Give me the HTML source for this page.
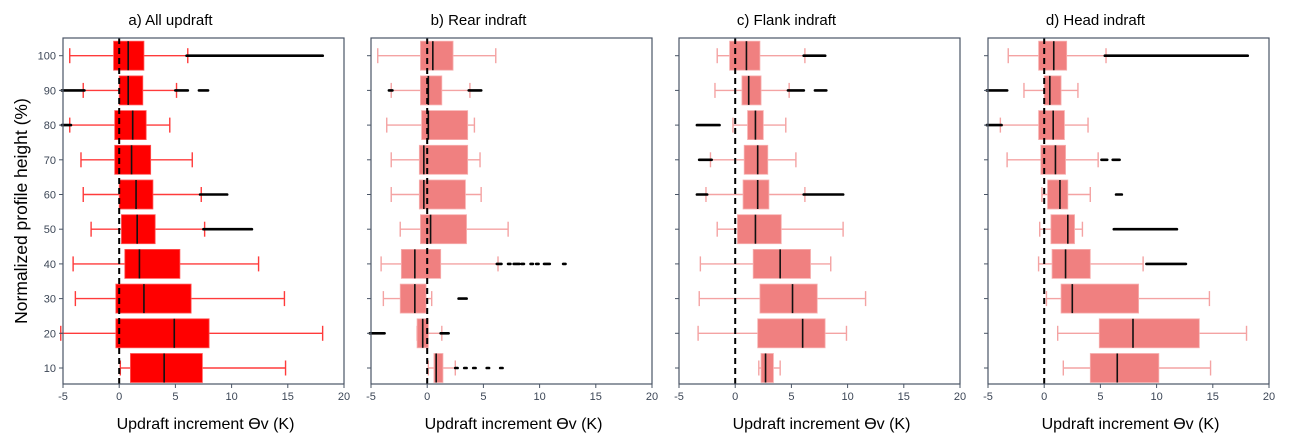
<!DOCTYPE html>
<html><head><meta charset="utf-8">
<style>
html,body{margin:0;padding:0;background:#fff;}
svg{display:block;font-family:"Liberation Sans",sans-serif;}
</style></head>
<body>
<svg id="chart" width="1289" height="446" viewBox="0 0 1289 446" xmlns="http://www.w3.org/2000/svg">
<text x="0" y="0" transform="translate(27,211) rotate(-90)" text-anchor="middle" font-size="17.5" fill="#000">Normalized profile height (%)</text>
</svg>
<script>
const heights = [100, 90, 80, 70, 60, 50, 40, 30, 20, 10];
const xTicks = [-5, 0, 5, 10, 15, 20];
const panelTitles = ["a) All updraft", "b) Rear indraft", "c) Flank indraft", "d) Head indraft"];
// per panel rows: [whiskerLo, q1, median, q3, whiskerHi]
const statsA = [[-4.4,-0.5,0.8,2.2,6.1],[-3.2,0,0.8,2.1,5.1],[-4.4,-0.4,1.2,2.4,4.5],[-3.4,-0.4,1.1,2.8,6.5],[-3.2,0,1.5,3.0,7.3],[-2.5,0.2,1.6,3.2,7.6],[-4.1,0.5,1.8,5.4,12.4],[-3.9,-0.3,2.2,6.4,14.7],[-5.2,-0.3,4.9,8.0,18.1],[0.1,1.0,4.0,7.4,14.8]];
const statsB = [[-4.4,-0.6,0.5,2.3,6.1],[-3.2,-0.6,0.1,1.3,3.8],[-3.6,-0.5,0.1,3.6,4.2],[-3.2,-0.7,-0.3,3.6,4.7],[-3.2,-0.7,-0.3,3.4,4.8],[-2.4,-0.6,0.3,3.5,7.2],[-4.1,-2.3,-1.1,1.2,6.3],[-3.9,-2.4,-1.1,-0.1,0.4],[-0.9,-0.9,-0.4,0.1,1.3],[0.1,0.6,0.8,1.4,2.5]];
const statsC = [[-1.6,-0.5,1.0,2.2,6.2],[-1.8,0.6,1.2,2.3,4.8],[-0.2,1.1,1.8,2.5,4.5],[-2.2,0.8,2.0,2.9,5.4],[-2.6,0.7,2.0,3.0,6.2],[-1.6,0.2,1.8,4.1,9.6],[-3.1,1.6,4.0,6.7,8.5],[-3.2,2.2,5.1,7.3,11.6],[-3.3,2.0,6.0,8.0,9.9],[2.1,2.3,2.7,3.4,4.0]];
const statsD = [[-3.2,-0.5,0.85,2.0,5.5],[-1.8,0,0.5,1.5,3.0],[-3.9,-0.5,0.8,1.8,3.9],[-3.3,-0.3,1.0,1.9,4.8],[-0.2,0.3,1.4,2.1,4.1],[-0.4,0.6,2.1,2.7,3.4],[-0.5,0.7,1.9,4.1,8.8],[0.2,1.5,2.5,8.4,14.7],[1.2,4.9,7.9,13.8,18.0],[1.7,4.1,6.5,10.2,14.8]];
// outlier clusters: [rowIndex, from, to]
const outA = [[0,6.1,18],[1,-5,-3.2],[1,5.1,6],[1,7.2,7.8],[2,-5,-4.4],[4,7.3,9.5],[5,7.6,11.7]];
const outB = [[1,-3.3,-3.2],[1,3.8,4.7],[6,6.3,6.5],[6,7.3,7.3],[6,7.8,8.1],[6,8.5,8.5],[6,9.3,9.3],[6,9.8,9.8],[6,10.5,10.8],[6,12.2,12.2],[7,2.9,3.4],[8,-5,-3.9],[8,1.3,1.8],[9,2.6,2.6],[9,3.4,3.4],[9,4.2,4.2],[9,5.4,5.4],[9,6.6,6.6]];
const outC = [[0,6.2,7.9],[1,4.8,6.0],[1,7.2,8.0],[2,-3.3,-1.5],[3,-3.1,-2.2],[4,-3.3,-2.6],[4,6.2,9.5]];
const outD = [[0,5.5,18],[1,-5,-3.4],[2,-5,-3.9],[3,5.2,5.5],[3,6.2,6.6],[4,6.5,6.8],[5,6.3,11.7],[6,9.2,12.5]];
const allStats = [statsA, statsB, statsC, statsD];
const allOut = [outA, outB, outC, outD];

const NS = "http://www.w3.org/2000/svg";
const svg = document.getElementById('chart');
const panelLeft = [63, 371, 679, 988];
const panelW = 281, topY = 38, bottomY = 384;
const boxFill = ["#ff0000","#f08080","#f08080","#f08080"];
const whColor = ["#ff3b3b","#f4a3a3","#f4a3a3","#f4a3a3"];
function mk(tag, attrs, parent){const e=document.createElementNS(NS,tag);for(const k in attrs)e.setAttribute(k,attrs[k]);(parent||svg).appendChild(e);return e;}
function yScale(h){return 55.7 + (100-h)/10*34.7;}

for(let p=0;p<4;p++){
  const L = panelLeft[p];
  const xs = v => L + (v+5)/25*panelW;
  const g = mk('g',{});
  
  
  const t = mk('text',{x:L+panelW/2-33,y:25,'text-anchor':'middle','font-size':'15',fill:'#000'},g);
  
  
  t.textContent = panelTitles[p];
  const stats = allStats[p];
  heights.forEach((h,i)=>{
    const y = yScale(h), s = stats[i];
    const row = mk('g',{},g);
    
    
    mk('line',{x1:xs(s[0]),x2:xs(s[1]),y1:y,y2:y,stroke:whColor[p],'stroke-width':1.4},row);
    mk('line',{x1:xs(s[3]),x2:xs(s[4]),y1:y,y2:y,stroke:whColor[p],'stroke-width':1.4},row);
    mk('line',{x1:xs(s[0]),x2:xs(s[0]),y1:y-7.5,y2:y+7.5,stroke:whColor[p],'stroke-width':1.4},row);
    mk('line',{x1:xs(s[4]),x2:xs(s[4]),y1:y-7.5,y2:y+7.5,stroke:whColor[p],'stroke-width':1.4},row);
    mk('rect',{x:xs(s[1]),y:y-14.5,width:Math.max(1,xs(s[3])-xs(s[1])),height:29,fill:boxFill[p],stroke:p?'#f7b0b0':'#ff5555','stroke-width':0.8},row);
    mk('line',{x1:xs(s[2]),x2:xs(s[2]),y1:y-14.5,y2:y+14.5,stroke:'#111','stroke-width':1.6},row);
  });
  allOut[p].forEach(o=>{
    const y = yScale(heights[o[0]]);
    const ln = mk('line',{x1:xs(o[1])-1.2,x2:xs(o[2])+1.2,y1:y,y2:y,stroke:'#000','stroke-width':2.6,'stroke-linecap':'round'},g);
    
    
  });
  const zl = mk('line',{x1:xs(0),x2:xs(0),y1:topY,y2:bottomY,stroke:'#000','stroke-width':2,'stroke-dasharray':'6,4'},g);
  
  
  const fr = mk('rect',{x:L,y:topY,width:panelW,height:bottomY-topY,fill:'none',stroke:'#4a5566','stroke-width':1.2},g);
  
  
  xTicks.forEach(v=>{
    mk('line',{x1:xs(v),x2:xs(v),y1:bottomY,y2:bottomY+4,stroke:'#4a5566','stroke-width':1},g);
    const tl = mk('text',{x:xs(v),y:bottomY+16,'text-anchor':'middle','font-size':'11',fill:'#3c4656'},g);
    
    
    tl.textContent = v;
  });
  heights.forEach(h=>{
    mk('line',{x1:L-4,x2:L,y1:yScale(h),y2:yScale(h),stroke:'#4a5566','stroke-width':1},g);
    if(p===0){
      const yl = mk('text',{x:L-7,y:yScale(h)+4,'text-anchor':'end','font-size':'11',fill:'#3c4656'},g);
      
      
      yl.textContent = h;
    }
  });
  const xl = mk('text',{x:L+panelW/2+2,y:429,'text-anchor':'middle','font-size':'16',fill:'#000'},g);
  
  
  xl.textContent = 'Updraft increment \u03F4v (K)';
}
</script>
</body></html>
